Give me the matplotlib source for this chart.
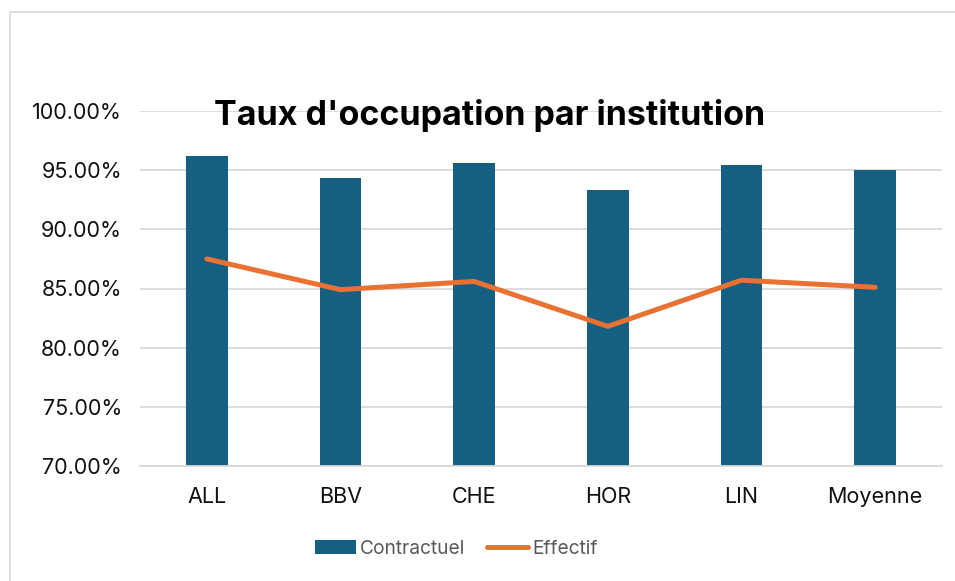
import numpy as np
import matplotlib.pyplot as plt
from matplotlib.patches import Rectangle
from matplotlib.ticker import PercentFormatter

# ── données ──
institutions = ["ALL", "BBV", "CHE", "HOR", "LIN", "Moyenne"]
contractuel = [96.2, 94.3, 95.6, 93.3, 95.4, 95.0]
effectif = [87.5, 84.9, 85.6, 81.8, 85.7, 85.1]

BLUE = "#156082"
ORANGE = "#E97132"
GRID = "#D9D9D9"

plt.rcParams["font.family"] = ["Inter", "DejaVu Sans"]

fig = plt.figure(figsize=(9.55, 5.81), dpi=100)
W, H = 955, 581

# cadre du graphique (coupé à droite et en bas)
fig.patches.append(Rectangle((10 / W, -0.1), 1.2, 1 - 12 / H + 0.1,
                             transform=fig.transFigure, fill=False,
                             edgecolor=GRID, lw=1.2))

ax = fig.add_axes([140 / W, 1 - 466 / H, (942 - 140) / W, (466 - 111) / H])
x = np.arange(len(institutions))
bars = ax.bar(x, contractuel, width=0.31, color=BLUE, label="Contractuel", zorder=2)
line, = ax.plot(x, effectif, color=ORANGE, lw=3.6, solid_capstyle="round",
                label="Effectif", zorder=3)

ax.set_xlim(-0.5, len(institutions) - 0.5)
ax.set_ylim(70, 100)
ax.set_yticks(np.arange(70, 100.1, 5))
ax.yaxis.set_major_formatter(PercentFormatter(decimals=2))
ax.set_xticks(x)
ax.set_xticklabels(institutions)
ax.tick_params(length=0, labelsize=15.5, colors="#111111")
ax.tick_params(axis="y", pad=13)
ax.tick_params(axis="x", pad=15)
ax.grid(axis="y", color=GRID, lw=1.3, zorder=0)
for s in ["top", "right", "left"]:
    ax.spines[s].set_visible(False)
ax.spines["bottom"].set_color(GRID)
ax.spines["bottom"].set_linewidth(1.3)
ax.set_axisbelow(True)

fig.text(490 / W, 1 - 115 / H, "Taux d'occupation par institution",
         ha="center", va="center", fontsize=24.5, fontweight="bold")

# légende en police étroite, comme dans l'original
leg = fig.legend([bars, line], ["Contractuel", "Effectif"], loc="center",
                 bbox_to_anchor=(456 / W, 1 - 549 / H), ncol=2,
                 frameon=False, labelcolor="#595959",
                 prop={"family": ["Liberation Sans Narrow", "Inter"], "size": 13.8},
                 handlelength=2.15, handleheight=0.75, handletextpad=0.2,
                 columnspacing=1.15)

fig.savefig("out.png", dpi=100)
